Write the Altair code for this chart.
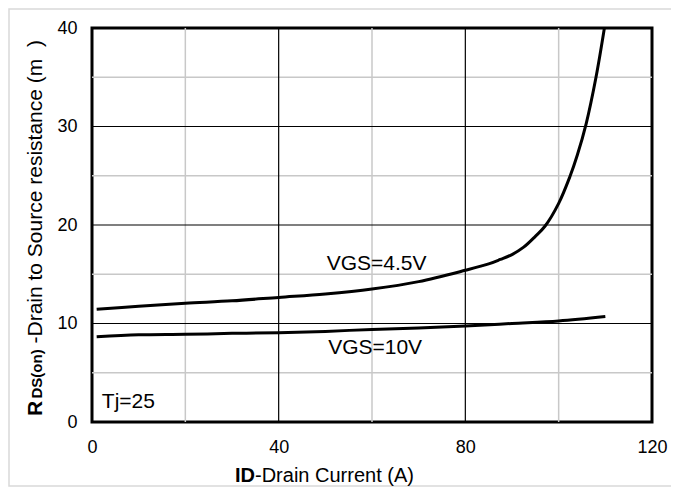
import altair as alt
import pandas as pd

# ---- data ----
id_45 = [1, 10, 20, 30, 40, 50, 60, 70, 80, 85, 87.5, 90, 92.5, 95, 97.1, 100, 102.4, 104, 105.9, 108, 109.8]
r_45 = [11.45, 11.75, 12.05, 12.3, 12.65, 13.0, 13.5, 14.25, 15.4, 16.05, 16.5, 17.0, 17.75, 18.85, 19.9, 22.2, 24.9, 27.1, 30.3, 35.0, 40.0]
id_10 = [1, 10, 20, 30, 40, 50, 60, 70, 80, 90, 100, 110]
r_10 = [8.65, 8.85, 8.9, 9.0, 9.07, 9.2, 9.4, 9.55, 9.75, 10.0, 10.25, 10.7]

x_ticks = [0, 40, 80, 120]
y_ticks = [0, 10, 20, 30, 40]
dark_x = [40, 80]
light_x = [20, 60, 100]
dark_y = [10, 20, 30]
light_y = [5, 15, 25, 35]

labels = ["VGS=4.5V", "VGS=10V", "Tj=25"]
label_x = [50.3, 50.6, 2.1]
label_y = [15.45, 6.95, 1.45]

y_title_parts = ["R", "DS(on)", "-Drain to Source resistance (m\u00a0\u00a0)"]
x_title_parts = ["ID", "-Drain Current (A)"]

FONT = "Liberation Sans"

curves = pd.DataFrame({
    "id": id_45 + id_10,
    "r": r_45 + r_10,
    "s": ["4.5"] * len(id_45) + ["10"] * len(id_10),
})

xs = alt.Scale(domain=[0, 120], nice=False)
ys = alt.Scale(domain=[0, 40], nice=False)

x_axis = alt.Axis(values=x_ticks, title=None, grid=False, ticks=False, domain=False,
                  labelFontSize=18, labelFont=FONT, labelColor="black",
                  labelPadding=16, labelFlush=False)
y_axis = alt.Axis(values=y_ticks, title=None, grid=False, ticks=False, domain=False,
                  labelFontSize=18, labelFont=FONT, labelColor="black",
                  labelPadding=15, labelFlush=False)

border = alt.Chart(pd.DataFrame({"a": [0]})).mark_rect(
    fill=None, stroke="#d9d9d9", strokeWidth=1.5
).encode(x=alt.value(-83), x2=alt.value(620), y=alt.value(-19), y2=alt.value(458))

vlight = alt.Chart(pd.DataFrame({"x": light_x})).mark_rule(color="#c8c8c8", strokeWidth=1.5).encode(
    x=alt.X("x:Q", scale=xs, axis=x_axis))
hlight = alt.Chart(pd.DataFrame({"y": light_y})).mark_rule(color="#c8c8c8", strokeWidth=1.5).encode(
    y=alt.Y("y:Q", scale=ys, axis=y_axis))
vdark = alt.Chart(pd.DataFrame({"x": dark_x})).mark_rule(color="black", strokeWidth=1.2).encode(
    x=alt.X("x:Q", scale=xs))
hdark = alt.Chart(pd.DataFrame({"y": dark_y})).mark_rule(color="black", strokeWidth=1.2).encode(
    y=alt.Y("y:Q", scale=ys))

lines = alt.Chart(curves).mark_line(color="black", strokeWidth=3, interpolate="catmull-rom", clip=True).encode(
    x=alt.X("id:Q", scale=xs),
    y=alt.Y("r:Q", scale=ys),
    detail="s:N",
)

texts = alt.Chart(pd.DataFrame({"t": labels, "x": label_x, "y": label_y})).mark_text(
    align="left", baseline="alphabetic", font=FONT, fontSize=21, color="black"
).encode(x=alt.X("x:Q", scale=xs), y=alt.Y("y:Q", scale=ys), text="t:N")

def piece(txt, x, y, size, bold, align, angle=0):
    kw = dict(align=align, baseline="alphabetic", font=FONT, fontSize=size, color="black")
    if bold:
        kw["fontWeight"] = "bold"
    if angle:
        kw["angle"] = angle
    return alt.Chart(pd.DataFrame({"t": [txt]})).mark_text(**kw).encode(
        x=alt.value(x), y=alt.value(y), text="t:N")

yt1 = piece(y_title_parts[0], -50, 388, 21, True, "left", 270)
yt2 = piece(y_title_parts[1], -50, 370.5, 15, True, "left", 270)
yt3 = piece(y_title_parts[2], -50, 315.5, 21, False, "left", 270)
xt1 = piece(x_title_parts[0], 163, 454, 20, True, "right")
xt2 = piece(x_title_parts[1], 163, 454, 20, False, "left")

chart = alt.layer(
    border, vlight, hlight, vdark, hdark, lines, texts, yt1, yt2, yt3, xt1, xt2
).properties(
    width=560, height=394,
    autosize=alt.AutoSizeParams(type="none"),
    padding={"left": 84, "top": 20, "right": 19, "bottom": 65},
    background="white",
).configure_view(stroke="black", strokeWidth=3)

chart.save("out.html", embed_options={"renderer": "svg", "actions": False})
